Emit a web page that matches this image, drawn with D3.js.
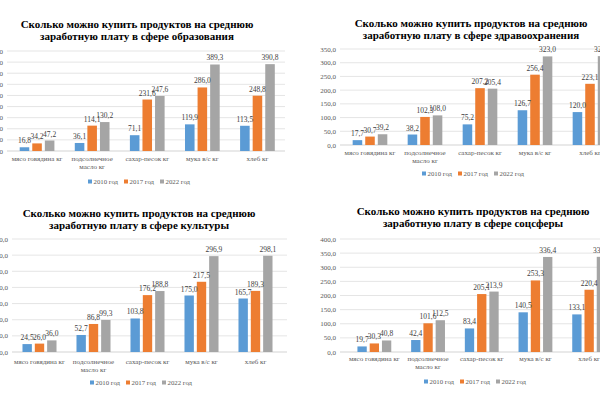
<!DOCTYPE html>
<html>
<head>
<meta charset="utf-8">
<script src="https://cdn.jsdelivr.net/npm/d3@7"></script>
<style>
  html, body { margin: 0; padding: 0; background: #fff; }
  svg { display: block; }
</style>
</head>
<body>
<div id="chart"></div>
<script>
const categories = ['мясо говядина кг', 'подсолнечное масло кг', 'сахар-песок кг', 'мука в/с кг', 'хлеб кг'];
const categoryLines = [['мясо говядина кг'], ['подсолнечное', 'масло кг'], ['сахар-песок кг'], ['мука в/с кг'], ['хлеб кг']];
const years = ['2010 год', '2017 год', '2022 год'];
const colors = ['#5b9bd5', '#ed7d31', '#a5a5a5'];

// values per category: [2010, 2017, 2022]
const educationValues = [[16.8, 34.2, 47.2], [36.1, 114.1, 130.2], [71.1, 231.6, 247.6], [119.9, 286.0, 389.3], [113.5, 248.8, 390.8]];
const healthValues = [[17.7, 30.7, 39.2], [38.2, 102.3, 108.0], [75.2, 207.2, 205.4], [126.7, 256.4, 323.0], [120.0, 223.1, 324.0]];
const cultureValues = [[24.5, 26.0, 36.0], [52.7, 86.8, 99.3], [103.8, 176.2, 188.8], [175.0, 217.5, 296.9], [165.7, 189.3, 298.1]];
const socialValues = [[19.7, 30.3, 40.8], [42.4, 101.6, 112.5], [83.4, 205.1, 213.9], [140.5, 253.3, 336.4], [133.1, 220.4, 336.9]];

const educationTicks = [0, 50, 100, 150, 200, 250, 300, 350, 400, 450];
const healthTicks = [0, 50, 100, 150, 200, 250, 300, 350];
const cultureTicks = [0, 50, 100, 150, 200, 250, 300, 350];
const socialTicks = [0, 50, 100, 150, 200, 250, 300, 350, 400];

const titleLine1 = 'Сколько можно купить продуктов на среднюю';
const titles = ['заработную плату в сфере образования', 'заработную плату в сфере здравоохранения',
  'заработную плату в сфере культуры', 'заработную плату в сфере соцсферы'];

const panels = [
  { values: educationValues, ticks: educationTicks, title: titles[0], tx: 137, ty: 28,
    xr: [9.5, 285], yr: [151, 51], grid: [7, 285], labelX: 3, catY: 161, legY: 184, legX: 88 },
  { values: healthValues, ticks: healthTicks, title: titles[1], tx: 471, ty: 27,
    xr: [342.5, 617.5], yr: [145, 49], grid: [340, 620], labelX: 336, catY: 155, legY: 176, legX: 422 },
  { values: cultureValues, ticks: cultureTicks, title: titles[2], tx: 139, ty: 217,
    xr: [12.5, 282.5], yr: [352, 239], grid: [12, 287], labelX: 8, catY: 364, legY: 385, legX: 90 },
  { values: socialValues, ticks: socialTicks, title: titles[3], tx: 473, ty: 215,
    xr: [347.5, 616], yr: [352, 239], grid: [340, 620], labelX: 336, catY: 361, legY: 384, legX: 424 }
];

const fmt = v => d3.format('.1f')(v).replace('.', ',');
const serif = '"Liberation Serif", "Times New Roman", serif';
const textColor = '#595959';

const svg = d3.select('#chart').append('svg')
  .attr('width', 600)
  .attr('height', 399)
  .style('font-family', serif);

panels.forEach(p => {
  const g = svg.append('g');

  // title
  const title = g.append('text')
    .attr('x', p.tx)
    .attr('y', p.ty)
    .attr('text-anchor', 'middle')
    .attr('font-size', 11)
    .attr('font-weight', 'bold')
    .attr('fill', '#000');
  title.append('tspan').attr('x', p.tx).text(titleLine1);
  title.append('tspan').attr('x', p.tx).attr('dy', 12).text(p.title);

  const y = d3.scaleLinear()
    .domain([0, d3.max(p.ticks)])
    .range(p.yr);

  const x0 = d3.scaleBand()
    .domain(categories)
    .range(p.xr)
    .paddingInner(0.37)
    .paddingOuter(0.185);

  const x1 = d3.scaleBand()
    .domain(years)
    .range([0, x0.bandwidth()])
    .paddingInner(0.24)
    .paddingOuter(0);

  // gridlines
  g.selectAll('.grid')
    .data(p.ticks)
    .enter().append('line')
    .attr('x1', p.grid[0])
    .attr('x2', p.grid[1])
    .attr('y1', d => y(d))
    .attr('y2', d => y(d))
    .attr('stroke', d => d === 0 ? '#c8c8c8' : '#dedede')
    .attr('stroke-width', 0.8);

  // y tick labels
  g.selectAll('.tick-label')
    .data(p.ticks)
    .enter().append('text')
    .attr('x', p.labelX)
    .attr('y', d => y(d) + 2.5)
    .attr('text-anchor', 'end')
    .attr('font-size', 7)
    .attr('fill', textColor)
    .text(d => fmt(d));

  const groups = g.selectAll('.group')
    .data(p.values)
    .enter().append('g')
    .attr('transform', (d, i) => `translate(${x0(categories[i])},0)`);

  groups.selectAll('rect')
    .data(d => d)
    .enter().append('rect')
    .attr('x', (d, j) => x1(years[j]))
    .attr('y', d => y(d))
    .attr('width', x1.bandwidth())
    .attr('height', d => y(0) - y(d))
    .attr('fill', (d, j) => colors[j]);

  groups.selectAll('.val')
    .data(d => d)
    .enter().append('text')
    .attr('x', (d, j) => x1(years[j]) + x1.bandwidth() / 2)
    .attr('y', d => y(d) - 4)
    .attr('text-anchor', 'middle')
    .attr('font-size', 7.5)
    .attr('fill', '#404040')
    .text(d => fmt(d));

  // category labels
  categoryLines.forEach((lines, i) => {
    const cx = x0(categories[i]) + x0.bandwidth() / 2;
    lines.forEach((line, k) => {
      g.append('text')
        .attr('x', cx)
        .attr('y', p.catY + k * 7.5)
        .attr('text-anchor', 'middle')
        .attr('font-size', 7)
        .attr('fill', textColor)
        .text(line);
    });
  });

  // legend
  const leg = g.selectAll('.legend')
    .data(years)
    .enter().append('g')
    .attr('transform', (d, i) => `translate(${p.legX + i * 36},${p.legY})`);
  leg.append('rect')
    .attr('x', 0)
    .attr('y', -4.5)
    .attr('width', 4)
    .attr('height', 4)
    .attr('fill', (d, i) => colors[i]);
  leg.append('text')
    .attr('x', 5.5)
    .attr('y', 0)
    .attr('font-size', 6.8)
    .attr('fill', textColor)
    .text(d => d);
});
</script>
</body>
</html>
